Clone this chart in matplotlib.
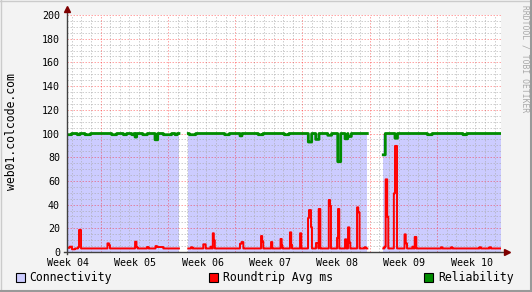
import numpy as np
import matplotlib
matplotlib.use("Agg")
import matplotlib.pyplot as plt
from matplotlib.lines import Line2D
from matplotlib.patches import Rectangle

# time axis in days from the start of "Week 04"
week_labels = ["Week 04", "Week 05", "Week 06", "Week 07", "Week 08", "Week 09", "Week 10"]
week_pos = [0.1, 7.1, 14.1, 21.1, 28.1, 35.1, 42.1]

# periods with data (gaps in between are unknown)
seg_start = [0.0, 12.62, 32.91]
seg_end = [11.65, 31.25, 45.13]
conn_value = [100, 100, 100]

# roundtrip avg ms: base level and short excursions
rtt_base = 3.0
rtt_start = [0.00, 0.28, 0.52, 1.14, 1.25, 4.21, 4.37, 7.08, 7.23, 8.32, 9.21, 9.37,
             12.90, 14.18, 14.93, 15.17, 15.28, 18.00, 18.16, 20.19, 20.31, 21.23,
             22.22, 22.34, 23.20, 23.33, 24.25, 25.08, 25.18, 25.39, 25.91, 26.19,
             27.24, 27.37, 28.10, 28.20, 28.93, 29.24, 29.38, 30.18, 30.31, 30.96,
             33.04, 33.16, 33.32, 34.01, 34.13, 35.12, 35.25, 35.93, 36.18,
             38.92, 39.96, 42.92, 43.96]
rtt_end = [0.28, 0.52, 0.83, 1.25, 1.46, 4.37, 4.47, 7.23, 7.34, 8.48, 9.37, 10.02,
           13.06, 14.43, 15.04, 15.28, 15.38, 18.16, 18.35, 20.31, 20.42, 21.36,
           22.34, 22.42, 23.33, 23.41, 24.38, 25.18, 25.39, 25.49, 26.17, 26.36,
           27.37, 27.47, 28.20, 28.33, 29.06, 29.38, 29.48, 30.31, 30.44, 31.11,
           33.16, 33.32, 33.43, 34.13, 34.34, 35.25, 35.38, 36.04, 36.35,
           39.05, 40.10, 43.08, 44.12]
rtt_value = [3.5, 4.5, 2.3, 4.0, 18.6, 7.3, 5.9, 8.7, 4.2, 4.2, 5.0, 4.2,
             4.0, 6.5, 4.5, 15.8, 9.9, 7.0, 8.4, 13.5, 9.0, 8.4,
             11.0, 5.6, 16.6, 6.0, 15.8, 28.7, 35.4, 21.0, 7.6, 36.3,
             43.9, 39.0, 12.0, 36.3, 10.7, 20.8, 8.0, 37.7, 33.5, 4.0,
             4.5, 61.3, 29.8, 49.5, 89.5, 14.9, 7.3, 4.5, 12.7,
             4.0, 4.0, 4.0, 4.0]

# reliability: mostly 100 with dips
rel_base = 100.0
rel_start = [0.00, 1.07, 1.87, 4.65, 5.86, 6.73, 7.08, 7.88, 9.16, 10.02, 11.24,
             12.73, 16.40, 18.00, 19.90, 22.60, 25.11, 25.88, 27.13, 28.17, 28.93, 29.24,
             32.91, 34.13, 37.50, 41.20]
rel_end = [0.49, 1.35, 2.46, 5.17, 6.21, 6.97, 7.25, 8.36, 9.44, 10.89, 11.48,
           13.40, 16.90, 18.21, 20.40, 23.10, 25.46, 26.22, 27.54, 28.48, 29.21, 29.59,
           33.12, 34.39, 38.00, 41.60]
rel_value = [99, 99, 99, 99, 99, 99, 97, 99, 94.7, 99, 99,
             99, 99, 98, 99, 99, 92.8, 95, 98.5, 76.2, 95.5, 97.5,
             82, 96, 99, 99]


def build(base, starts, ends, values):
    t = np.arange(0, 45.2, 0.005)
    y = np.full(t.shape, np.nan)
    for s, e in zip(seg_start, seg_end):
        y[(t >= s) & (t < e)] = base
    for s, e, v in zip(starts, ends, values):
        y[(t >= s) & (t < e)] = v
    return t, y


W, H = 532, 292
mono = "DejaVu Sans Mono"

fig = plt.figure(figsize=(W / 100, H / 100), dpi=100, facecolor="#f3f3f3")
ax = fig.add_axes([67 / W, 1 - 252 / H, 434 / W, 237 / H])
ax.set_facecolor("white")
ax.set_xlim(0, 45.16)
ax.set_ylim(0, 200)

# connectivity area
for s, e, c in zip(seg_start, seg_end, conn_value):
    ax.fill_between([s, e], 0, c, color="#ccccff", lw=0, zorder=1)

# grid
for d in np.arange(0.5, 45, 1.0):
    if abs((d - 3.5) % 7) < 1e-6:
        continue
    ax.axvline(d, color="#a8a8a8", alpha=0.55, lw=0.72, ls=(0, (1.5, 1.5)), zorder=2)
for v in range(5, 200, 5):
    if v % 20 == 0:
        continue
    ax.axhline(v, color="#a8a8a8", alpha=0.55, lw=0.72, ls=(0, (1.5, 1.5)), zorder=2)
for d in np.arange(3.5, 45, 7.0):
    ax.axvline(d, color="#ff0000", alpha=0.35, lw=0.72, ls=(0, (1.5, 1.5)), zorder=2.1)
for v in range(20, 201, 20):
    ax.axhline(v, color="#ff0000", alpha=0.35, lw=0.72, ls=(0, (1.5, 1.5)), zorder=2.1)

t, rtt = build(rtt_base, rtt_start, rtt_end, rtt_value)
ax.plot(t, rtt, color="#ff0000", lw=1.4, drawstyle="steps-post", zorder=3)
t, rel = build(rel_base, rel_start, rel_end, rel_value)
ax.plot(t, rel, color="#008c00", lw=2.0, drawstyle="steps-post", zorder=4)

# axes and arrows
for sp in ax.spines.values():
    sp.set_visible(False)
ax.plot([0, 0], [-0.01, 1.02], color="#404040", lw=1, transform=ax.transAxes, clip_on=False, zorder=5)
ax.plot([-0.007, 1.01], [0, 0], color="#404040", lw=1, transform=ax.transAxes, clip_on=False, zorder=5)
ax.plot([0], [1.025], marker="^", ms=4, color="#7f0000", transform=ax.transAxes, clip_on=False, zorder=6)
ax.plot([1.013], [0], marker=">", ms=4, color="#7f0000", transform=ax.transAxes, clip_on=False, zorder=6)

ax.set_yticks(range(0, 201, 20))
ax.set_xticks(week_pos)
ax.set_xticklabels(week_labels)
ax.tick_params(length=0, labelsize=7.2)
ax.tick_params(axis="y", pad=5)
ax.tick_params(axis="x", pad=4)
for lab in ax.get_xticklabels() + ax.get_yticklabels():
    lab.set_family(mono)

fig.text(11.7 / W, 1 - 131.5 / H, "web01.colcode.com", rotation=90, ha="center", va="center",
         family=mono, fontsize=8.3)
fig.text(525 / W, 1 - 59 / H, "RRDTOOL / TOBI OETIKER", rotation=270, ha="center", va="center",
         family=mono, fontsize=5.8, color="#a8a8a8")

# legend
legend = [("Connectivity", "#ccccff", 15.5), ("Roundtrip Avg ms", "#ff0000", 209.3),
          ("Reliability", "#008c00", 424.3)]
for name, col, x0 in legend:
    fig.patches.append(Rectangle((x0 / W, 1 - 282 / H), 9 / W, 9 / H, facecolor=col,
                                 edgecolor="black", lw=0.8, transform=fig.transFigure))
    fig.text((x0 + 14) / W, 1 - 277.5 / H, name, ha="left", va="center", family=mono, fontsize=8.3)

# 3d frame
fig.lines.append(Line2D([0, 1], [1 - 0.5 / H, 1 - 0.5 / H], color="#cbcbcb", lw=1, transform=fig.transFigure))
fig.lines.append(Line2D([0.5 / W, 0.5 / W], [0, 1], color="#cbcbcb", lw=1, transform=fig.transFigure))
fig.lines.append(Line2D([0, 1], [1 / H, 1 / H], color="#999999", lw=1.5, transform=fig.transFigure))
fig.lines.append(Line2D([1 - 1 / W, 1 - 1 / W], [0, 1], color="#999999", lw=1.5, transform=fig.transFigure))

fig.savefig("out.png", dpi=100, facecolor=fig.get_facecolor())
